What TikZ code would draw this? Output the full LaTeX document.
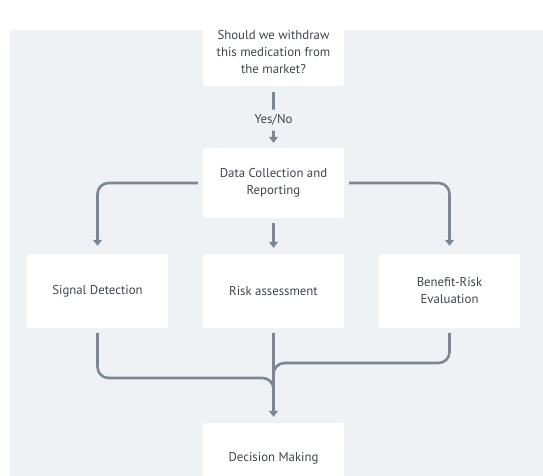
\documentclass[tikz,border=0pt]{standalone}
\usepackage{fontspec}
\setmainfont{PT Sans}
\usetikzlibrary{positioning, arrows.meta}
\definecolor{panel}{HTML}{EEF2F5}
\definecolor{wire}{HTML}{7A8794}
\definecolor{ink}{HTML}{40464D}

\begin{document}
\begin{tikzpicture}[x=1pt, y=-1pt,
    box/.style={rectangle, minimum width=141pt, minimum height=70pt, align=center, fill=white, rounded corners=2pt, text=ink, font=\fontsize{12.8}{17}\selectfont},
    wireline/.style={line width=2.6pt, draw=wire, rounded corners=11pt},
    arrow/.style={wireline, -{Triangle[width=9pt,length=6pt]}}
]
\useasboundingbox (0,0) rectangle (543,476);
\clip (0,0) rectangle (543,476);
\fill[panel] (10,30) rectangle (560,490);

% Nodes
\node[box, minimum height=68pt] (question) at (273.5, 52) {Should we withdraw\\this medication from\\the market?};
\node[box] (data) at (273.5, 183) {Data Collection and\\Reporting};
\node[box, minimum height=74pt] (signal) at (97.5, 291) {Signal Detection};
\node[box, minimum height=74pt] (risk) at (273.5, 291) {Risk assessment};
\node[box, minimum height=74pt] (benefit) at (449.5, 291) {Benefit-Risk\\Evaluation};
\node[box] (decision) at (273.5, 458) {Decision Making};
\coordinate (join) at (273.5, 400);

% Arrows
\draw[arrow, shorten <=6pt, shorten >=5pt] (question) -- node[pos=0.55, fill=panel, text=ink, inner sep=5pt, font=\fontsize{12.8}{14}\selectfont] {Yes/No} (data);
\draw[arrow, shorten <=5pt, shorten >=8pt] (data.west) -| (signal.north);
\draw[arrow, shorten <=5pt, shorten >=8pt] (data.east) -| (benefit.north);
\draw[arrow, shorten <=5pt, shorten >=6pt] (data) -- (risk);
\draw[wireline, shorten <=5pt] (signal.south) -- (signal.south |- 0,378) -| (join);
\draw[wireline, shorten <=5pt] (benefit.south) -- (benefit.south |- 0,363) -| (join);
\draw[arrow, shorten <=5pt, shorten >=6pt] (risk) -- (decision);
\end{tikzpicture}
\end{document}
